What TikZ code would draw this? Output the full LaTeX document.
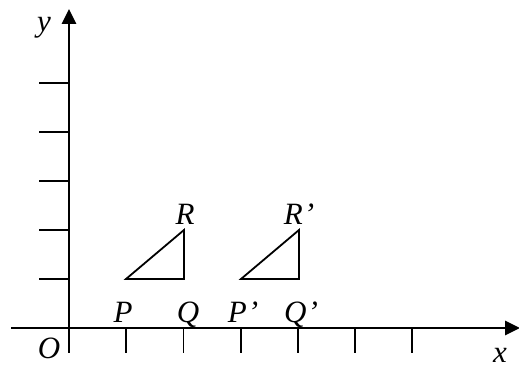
\documentclass[tikz,border=0pt]{standalone}
\usepackage{fontspec}
\setmainfont{Liberation Serif}
\usetikzlibrary{arrows.meta}
\begin{document}
\begin{tikzpicture}[x=1pt,y=-1pt,
  axis/.style={line width=2.6pt,-{Triangle[length=15pt,width=14pt]}},
  tick/.style={line width=1.8pt},
  tri/.style={line width=1.8pt,line join=miter},
  lbl/.style={font=\fontsize{31}{33}\selectfont\itshape,inner sep=0pt,anchor=base}]
\useasboundingbox (0,0) rectangle (519,371);
% axes
\coordinate (o) at (69,328);
\coordinate (xs) at (11,328);
\coordinate (xe) at (520,328);
\coordinate (ye) at (69,9);
\draw[axis] (xs) -- (xe);
\draw[axis] (o) -- (ye);
% y ticks
\foreach \i in {1,...,5}{
  \coordinate (ya\i) at (39,328-49*\i);
  \coordinate (yb\i) at (69,328-49*\i);
  \draw[tick] (ya\i) -- (yb\i);
}
% x ticks
\foreach \i in {0,...,6}{
  \coordinate (xa\i) at (69+57.2*\i,328);
  \coordinate (xb\i) at (69+57.2*\i,353);
  \draw[tick] (xa\i) -- (xb\i);
}
% triangles
\coordinate (P) at (126,279);
\coordinate (Q) at (184,279);
\coordinate (R) at (184,230);
\coordinate (P2) at (241,279);
\coordinate (Q2) at (299,279);
\coordinate (R2) at (299,230);
\draw[tri] (P) -- (Q) -- (R) -- cycle;
\draw[tri] (P2) -- (Q2) -- (R2) -- cycle;
% labels
\node[lbl] (lP) at (123,322) {P};
\node[lbl] (lQ) at (188,322) {Q};
\node[lbl] (lP2) at (243,322) {P\kern1pt’};
\node[lbl] (lQ2) at (301,322) {Q\kern1pt’};
\node[lbl] (lR) at (185,225) {R};
\node[lbl] (lR2) at (299,225) {R\kern1pt’};
\node[lbl] (lO) at (49,358) {O};
\node[lbl] (lx) at (500,362) {x};
\node[lbl] (ly) at (44,32) {y};
\end{tikzpicture}
\end{document}
